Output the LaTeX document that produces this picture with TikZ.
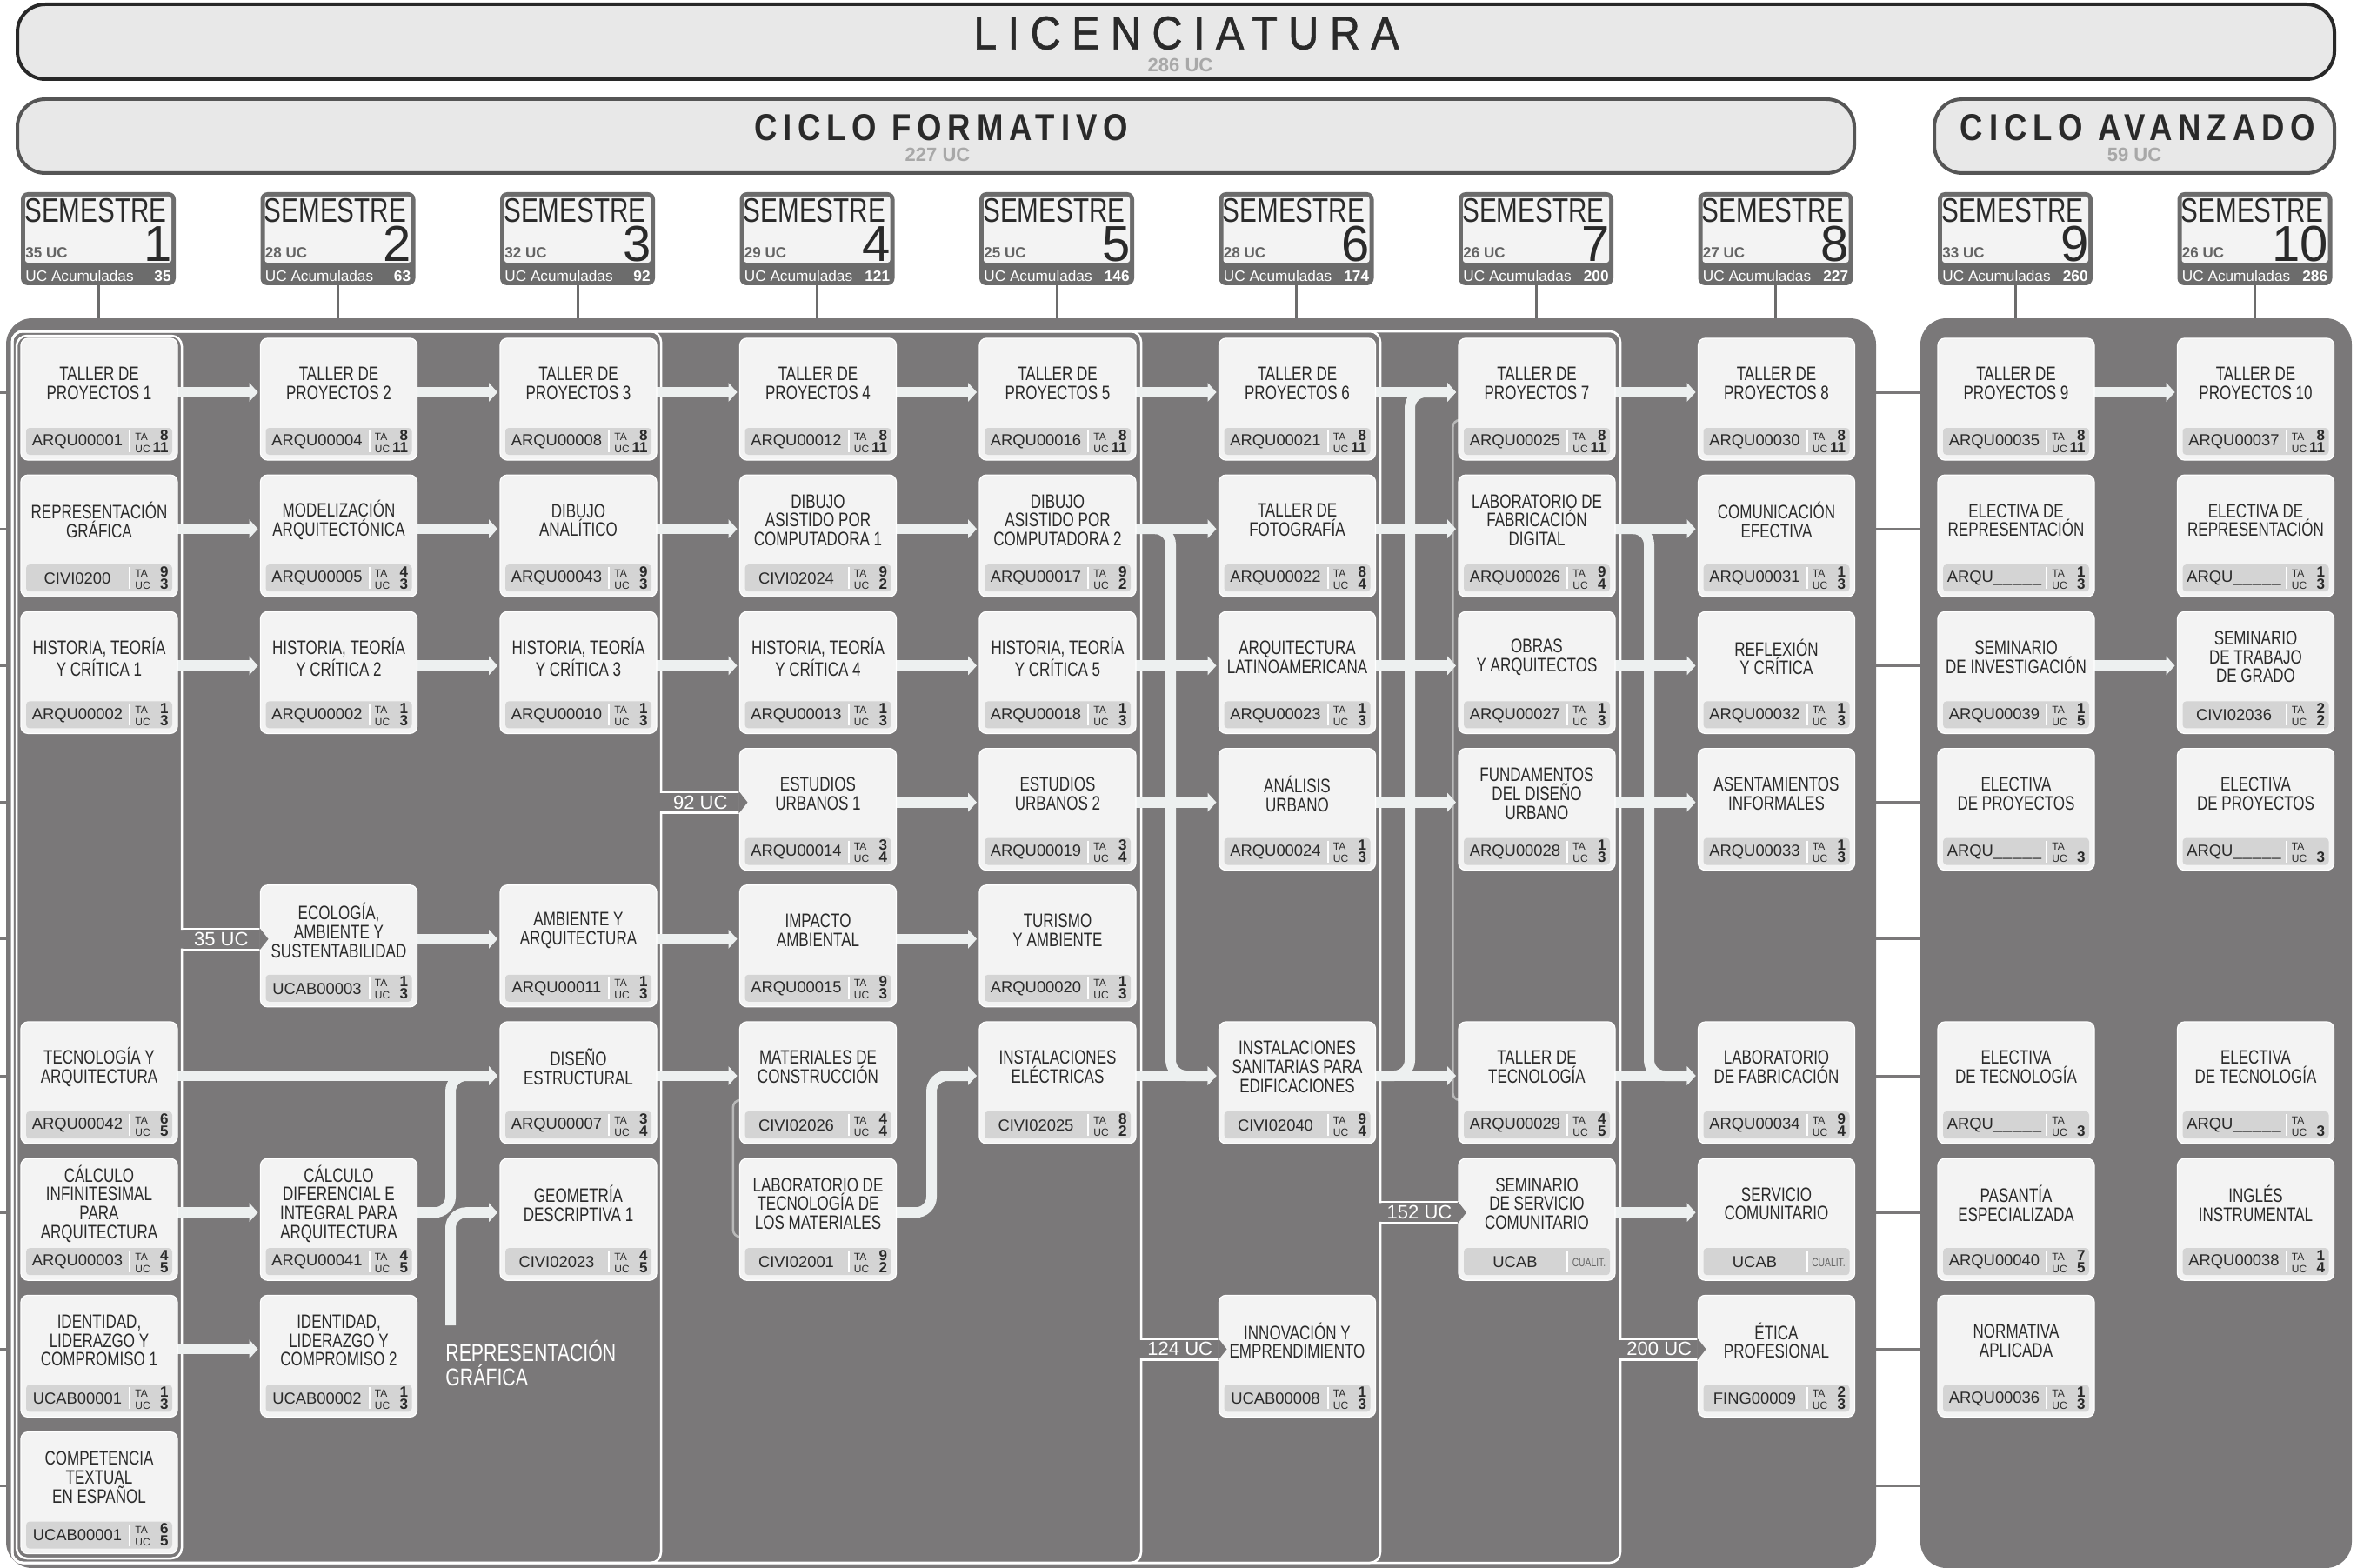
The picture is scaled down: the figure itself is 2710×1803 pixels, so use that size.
\documentclass[tikz,border=0pt]{standalone}
\usepackage{fontspec}
\setmainfont{Liberation Sans}
\newfontfamily\condfont{Liberation Sans}[FakeStretch=0.76]
\newfontfamily\licfont{Liberation Sans}[FakeStretch=0.9,LetterSpace=23,FakeBold=1]
\newfontfamily\ciclofont{Liberation Sans}[FakeStretch=0.85,LetterSpace=16]
\usetikzlibrary{arrows.meta,calc}

\pgfdeclarelayer{back}
\pgfdeclarelayer{mid}
\pgfsetlayers{back,mid,main}

\definecolor{panelgray}{RGB}{122,120,121}
\definecolor{boxfill}{RGB}{243,243,243}
\definecolor{stripfill}{RGB}{212,212,212}
\definecolor{flowfill}{RGB}{237,240,240}
\definecolor{headfill}{RGB}{232,232,232}
\definecolor{semgray}{RGB}{108,108,108}
\definecolor{inktext}{RGB}{42,42,42}
\definecolor{coreqgray}{RGB}{185,185,185}
\definecolor{subgray}{RGB}{168,168,168}
\definecolor{licline}{RGB}{40,40,40}
\definecolor{cicloline}{RGB}{85,85,85}
\definecolor{uctext}{RGB}{100,100,100}

\tikzset{
  headbox/.style={fill=headfill, line width=2pt, rounded corners=16pt, inner sep=0pt},
  lictext/.style={text=inktext, font=\licfont\fontsize{27}{27}\selectfont, inner sep=0pt},
  ciclotext/.style={text=inktext, font=\ciclofont\bfseries\fontsize{21.5}{22}\selectfont, inner sep=0pt},
  subuc/.style={text=subgray, font=\bfseries\fontsize{11}{11}\selectfont, inner sep=0pt},
  sembox/.style={fill=semgray, rounded corners=4pt, minimum width=89pt, minimum height=53.5pt, inner sep=0pt},
  seminner/.style={fill=boxfill, rounded corners=1.5pt, minimum width=84pt, minimum height=38pt, inner sep=0pt},
  semword/.style={text=inktext, font=\condfont\fontsize{19.5}{20}\selectfont, inner sep=0pt},
  semnum/.style={text=inktext, font=\fontsize{29}{29}\selectfont, inner sep=0pt},
  semuc/.style={text=uctext, font=\bfseries\fontsize{8.5}{9}\selectfont, inner sep=0pt},
  semacc/.style={text=white, font=\fontsize{8.6}{9}\selectfont, inner sep=0pt},
  semaccnum/.style={text=white, font=\bfseries\fontsize{8.6}{9}\selectfont, inner sep=0pt},
  semline/.style={draw=semgray, line width=1.5pt},
  panel/.style={fill=panelgray, rounded corners=15pt, inner sep=0pt},
  rowtick/.style={draw=panelgray, line width=1.5pt},
  coursebox/.style={draw=white, line width=0.6pt, fill=boxfill, rounded corners=4pt, minimum width=90pt, minimum height=70pt, inner sep=0pt},
  codestrip/.style={fill=stripfill, rounded corners=2pt, minimum width=84pt, minimum height=15.5pt, inner sep=0pt},
  coursetitle/.style={align=center, text=inktext, font=\condfont\fontsize{11.2}{10.9}\selectfont, inner sep=0pt},
  coursecode/.style={text=inktext, font=\fontsize{9.2}{10}\selectfont, inner sep=0pt},
  taucword/.style={text=inktext, font=\fontsize{6}{6}\selectfont, inner sep=0pt},
  taucnum/.style={text=inktext, font=\bfseries\fontsize{8.5}{8}\selectfont, inner sep=0pt},
  cualitword/.style={text=uctext, font=\condfont\fontsize{6.8}{7}\selectfont, inner sep=0pt},
  flow/.style={draw=flowfill, line width=6pt, rounded corners=9pt, -{Triangle[length=5pt,width=11pt,line width=0pt]}},
  ucline/.style={draw=white, line width=1.25pt, line cap=rect},
  uctag/.style={text=white, font=\fontsize{11}{12}\selectfont, inner sep=0pt},
  coreq/.style={draw=coreqgray, line width=1.25pt, rounded corners=4pt},
  replabel/.style={text=white, align=left, font=\condfont\fontsize{14}{14}\selectfont, inner sep=0pt},
}

\newcommand{\blankcode}{ARQU\_\kern0.5pt\_\kern0.5pt\_\kern0.5pt\_\kern0.5pt\_}

% semester header: name, number, UC, accumulated UC
\newcommand{\semester}[4]{%
  \pgfmathsetmacro\semx{113+275.5*(#2-1)}%
  \node[sembox] (#1) at (\semx,274.5) {};
  \node[seminner] at (\semx,264) {};
  \node[semword, anchor=base west] at (\semx-85,256) {SEMESTRE};
  \node[semnum, anchor=base east] at (\semx+85,300) {#2};
  \node[semuc, anchor=base west] at (\semx-84,297) {#3 UC};
  \node[semacc, anchor=base west] at (\semx-84,323) {UC Acumuladas};
  \node[semaccnum, anchor=base east] at (\semx+84,323) {#4};
}

% course box: name, column, row, title, code
\newcommand{\coursebase}[5]{%
  \pgfmathsetmacro\colx{24+275.5*(#2-1)}%
  \pgfmathsetmacro\rowy{389+157.2*(#3-1)}%
  \node[coursebox] (#1) at (\colx+90,\rowy+70) {};
  \node[codestrip] (#1-strip) at (\colx+90,\rowy+118.5) {};
  \draw[white, line width=1pt] (\colx+125,\rowy+106) -- (\colx+125,\rowy+131);
  \node[coursetitle] (#1-title) at (\colx+90,\rowy+52) {#4};
  \node[coursecode] (#1-code) at (\colx+65,\rowy+119) {#5};
  \coordinate (#1-w) at (\colx,\rowy+62);
  \coordinate (#1-in) at (\colx-3,\rowy+62);
  \coordinate (#1-out) at (\colx+180,\rowy+62);
  \coordinate (#1-tt) at (\colx,\rowy+50);
  \coordinate (#1-tb) at (\colx,\rowy+74);
}
\newcommand{\course}[7]{%
  \coursebase{#1}{#2}{#3}{#4}{#5}%
  \node[taucword, anchor=base west] at (\colx+131,\rowy+117) {TA};
  \node[taucword, anchor=base west] at (\colx+131,\rowy+131) {UC};
  \node[taucnum, anchor=base east] at (\colx+170,\rowy+117) {#6};
  \node[taucnum, anchor=base east] at (\colx+170,\rowy+131) {#7};
}
\newcommand{\cualit}[4]{%
  \coursebase{#1}{#2}{#3}{#4}{UCAB}%
  \node[cualitword] at (\colx+150,\rowy+120) {CUALIT.};
}

\begin{document}
\begin{tikzpicture}[x=0.5pt,y=-0.5pt]
  \useasboundingbox (0,0) rectangle (2710,1803);

  % headers
  \node[headbox, draw=licline, minimum width=1332pt, minimum height=43pt] (lic) at (1352,48) {};
  \node[lictext] (lictitle) at (1364,38) {LICENCIATURA};
  \node[subuc] (licuc) at (1357,75) {286 UC};
  \node[headbox, draw=cicloline, minimum width=1056pt, minimum height=42.5pt] (cform) at (1076,156.5) {};
  \node[ciclotext] (cformtitle) at (1082,147) {CICLO FORMATIVO};
  \node[subuc] (cformuc) at (1078,178) {227 UC};
  \node[headbox, draw=cicloline, minimum width=230pt, minimum height=42.5pt] (cavan) at (2454,156.5) {};
  \node[ciclotext] (cavantitle) at (2458,147) {CICLO AVANZADO};
  \node[subuc] (cavanuc) at (2454,178) {59 UC};

  % semesters
  \semester{s1}{1}{35}{35}
  \semester{s2}{2}{28}{63}
  \semester{s3}{3}{32}{92}
  \semester{s4}{4}{29}{121}
  \semester{s5}{5}{25}{146}
  \semester{s6}{6}{28}{174}
  \semester{s7}{7}{26}{200}
  \semester{s8}{8}{27}{227}
  \semester{s9}{9}{33}{260}
  \semester{s10}{10}{26}{286}

  % panels
  \begin{pgfonlayer}{back}
    \node[panel, minimum width=1075pt, minimum height=718.5pt] (formpanel) at (1082,1084.5) {};
    \node[panel, minimum width=248pt, minimum height=718.5pt] (advpanel) at (2456,1084.5) {};
    \foreach \s in {1,...,8} \draw[semline] (s\s.south) -- (s\s.south |- formpanel.north);
    \foreach \s in {9,10} \draw[semline] (s\s.south) -- (s\s.south |- advpanel.north);
    \foreach \r in {1,...,9} {
      \pgfmathsetmacro\ry{451+157.2*(\r-1)}
      \draw[rowtick] (0,\ry) -- (8,\ry);
      \draw[rowtick] (2150,\ry) -- (2215,\ry);
    }
  \end{pgfonlayer}

  % column 1
  \course{tp1}{1}{1}{TALLER DE\\PROYECTOS 1}{ARQU00001}{8}{11}
  \course{rg}{1}{2}{REPRESENTACIÓN\\GRÁFICA}{CIVI0200}{9}{3}
  \course{htc1}{1}{3}{HISTORIA, TEORÍA\\Y CRÍTICA 1}{ARQU00002}{1}{3}
  \course{tya}{1}{6}{TECNOLOGÍA Y\\ARQUITECTURA}{ARQU00042}{6}{5}
  \course{cinf}{1}{7}{CÁLCULO\\INFINITESIMAL\\PARA\\ARQUITECTURA}{ARQU00003}{4}{5}
  \course{ilc1}{1}{8}{IDENTIDAD,\\LIDERAZGO Y\\COMPROMISO 1}{UCAB00001}{1}{3}
  \course{cte}{1}{9}{COMPETENCIA\\TEXTUAL\\EN ESPAÑOL}{UCAB00001}{6}{5}
  % column 2
  \course{tp2}{2}{1}{TALLER DE\\PROYECTOS 2}{ARQU00004}{8}{11}
  \course{modarq}{2}{2}{MODELIZACIÓN\\ARQUITECTÓNICA}{ARQU00005}{4}{3}
  \course{htc2}{2}{3}{HISTORIA, TEORÍA\\Y CRÍTICA 2}{ARQU00002}{1}{3}
  \course{ecol}{2}{5}{ECOLOGÍA,\\AMBIENTE Y\\SUSTENTABILIDAD}{UCAB00003}{1}{3}
  \course{cdif}{2}{7}{CÁLCULO\\DIFERENCIAL E\\INTEGRAL PARA\\ARQUITECTURA}{ARQU00041}{4}{5}
  \course{ilc2}{2}{8}{IDENTIDAD,\\LIDERAZGO Y\\COMPROMISO 2}{UCAB00002}{1}{3}
  % column 3
  \course{tp3}{3}{1}{TALLER DE\\PROYECTOS 3}{ARQU00008}{8}{11}
  \course{danal}{3}{2}{DIBUJO\\ANALÍTICO}{ARQU00043}{9}{3}
  \course{htc3}{3}{3}{HISTORIA, TEORÍA\\Y CRÍTICA 3}{ARQU00010}{1}{3}
  \course{amarq}{3}{5}{AMBIENTE Y\\ARQUITECTURA}{ARQU00011}{1}{3}
  \course{dest}{3}{6}{DISEÑO\\ESTRUCTURAL}{ARQU00007}{3}{4}
  \course{gd1}{3}{7}{GEOMETRÍA\\DESCRIPTIVA 1}{CIVI02023}{4}{5}
  % column 4
  \course{tp4}{4}{1}{TALLER DE\\PROYECTOS 4}{ARQU00012}{8}{11}
  \course{dac1}{4}{2}{DIBUJO\\ASISTIDO POR\\COMPUTADORA 1}{CIVI02024}{9}{2}
  \course{htc4}{4}{3}{HISTORIA, TEORÍA\\Y CRÍTICA 4}{ARQU00013}{1}{3}
  \course{eu1}{4}{4}{ESTUDIOS\\URBANOS 1}{ARQU00014}{3}{4}
  \course{impam}{4}{5}{IMPACTO\\AMBIENTAL}{ARQU00015}{9}{3}
  \course{mat}{4}{6}{MATERIALES DE\\CONSTRUCCIÓN}{CIVI02026}{4}{4}
  \course{ltm}{4}{7}{LABORATORIO DE\\TECNOLOGÍA DE\\LOS MATERIALES}{CIVI02001}{9}{2}
  % column 5
  \course{tp5}{5}{1}{TALLER DE\\PROYECTOS 5}{ARQU00016}{8}{11}
  \course{dac2}{5}{2}{DIBUJO\\ASISTIDO POR\\COMPUTADORA 2}{ARQU00017}{9}{2}
  \course{htc5}{5}{3}{HISTORIA, TEORÍA\\Y CRÍTICA 5}{ARQU00018}{1}{3}
  \course{eu2}{5}{4}{ESTUDIOS\\URBANOS 2}{ARQU00019}{3}{4}
  \course{turam}{5}{5}{TURISMO\\Y AMBIENTE}{ARQU00020}{1}{3}
  \course{iel}{5}{6}{INSTALACIONES\\ELÉCTRICAS}{CIVI02025}{8}{2}
  % column 6
  \course{tp6}{6}{1}{TALLER DE\\PROYECTOS 6}{ARQU00021}{8}{11}
  \course{tfoto}{6}{2}{TALLER DE\\FOTOGRAFÍA}{ARQU00022}{8}{4}
  \course{arqlat}{6}{3}{ARQUITECTURA\\LATINOAMERICANA}{ARQU00023}{1}{3}
  \course{anurb}{6}{4}{ANÁLISIS\\URBANO}{ARQU00024}{1}{3}
  \course{isan}{6}{6}{INSTALACIONES\\SANITARIAS PARA\\EDIFICACIONES}{CIVI02040}{9}{4}
  \course{innov}{6}{8}{INNOVACIÓN Y\\EMPRENDIMIENTO}{UCAB00008}{1}{3}
  % column 7
  \course{tp7}{7}{1}{TALLER DE\\PROYECTOS 7}{ARQU00025}{8}{11}
  \course{lfd}{7}{2}{LABORATORIO DE\\FABRICACIÓN\\DIGITAL}{ARQU00026}{9}{4}
  \course{obras}{7}{3}{OBRAS\\Y ARQUITECTOS}{ARQU00027}{1}{3}
  \course{fdu}{7}{4}{FUNDAMENTOS\\DEL DISEÑO\\URBANO}{ARQU00028}{1}{3}
  \course{ttec}{7}{6}{TALLER DE\\TECNOLOGÍA}{ARQU00029}{4}{5}
  \cualit{ssc}{7}{7}{SEMINARIO\\DE SERVICIO\\COMUNITARIO}
  % column 8
  \course{tp8}{8}{1}{TALLER DE\\PROYECTOS 8}{ARQU00030}{8}{11}
  \course{comef}{8}{2}{COMUNICACIÓN\\EFECTIVA}{ARQU00031}{1}{3}
  \course{refl}{8}{3}{REFLEXIÓN\\Y CRÍTICA}{ARQU00032}{1}{3}
  \course{asinf}{8}{4}{ASENTAMIENTOS\\INFORMALES}{ARQU00033}{1}{3}
  \course{lfab}{8}{6}{LABORATORIO\\DE FABRICACIÓN}{ARQU00034}{9}{4}
  \cualit{scom}{8}{7}{SERVICIO\\COMUNITARIO}
  \course{etica}{8}{8}{ÉTICA\\PROFESIONAL}{FING00009}{2}{3}
  % column 9
  \course{tp9}{9}{1}{TALLER DE\\PROYECTOS 9}{ARQU00035}{8}{11}
  \course{erep9}{9}{2}{ELECTIVA DE\\REPRESENTACIÓN}{\blankcode}{1}{3}
  \course{seminv}{9}{3}{SEMINARIO\\DE INVESTIGACIÓN}{ARQU00039}{1}{5}
  \course{eproy9}{9}{4}{ELECTIVA\\DE PROYECTOS}{\blankcode}{}{3}
  \course{etec9}{9}{6}{ELECTIVA\\DE TECNOLOGÍA}{\blankcode}{}{3}
  \course{pasesp}{9}{7}{PASANTÍA\\ESPECIALIZADA}{ARQU00040}{7}{5}
  \course{norm}{9}{8}{NORMATIVA\\APLICADA}{ARQU00036}{1}{3}
  % column 10
  \course{tp10}{10}{1}{TALLER DE\\PROYECTOS 10}{ARQU00037}{8}{11}
  \course{erep10}{10}{2}{ELECTIVA DE\\REPRESENTACIÓN}{\blankcode}{1}{3}
  \course{stg}{10}{3}{SEMINARIO\\DE TRABAJO\\DE GRADO}{CIVI02036}{2}{2}
  \course{eproy10}{10}{4}{ELECTIVA\\DE PROYECTOS}{\blankcode}{}{3}
  \course{etec10}{10}{6}{ELECTIVA\\DE TECNOLOGÍA}{\blankcode}{}{3}
  \course{ingles}{10}{7}{INGLÉS\\INSTRUMENTAL}{ARQU00038}{1}{4}

  \begin{pgfonlayer}{mid}
    % credit brackets
    \foreach \bx/\off/\target in {1863/0/etica,1587/0/ssc,1312/0/innov,760/0/eu1,209/5/ecol} {
      \coordinate (bk) at (\bx,0);
      \draw[ucline, rounded corners=6pt] (bk |- \target-tt) -- (\bx,381+\off) -- (14+\off,381+\off)
        -- (14+\off,1797-\off) -- (\bx,1797-\off) -- (bk |- \target-tb);
      \draw[ucline] (bk |- \target-tt) -- (\target-tt) (bk |- \target-tb) -- (\target-tb);
    }
    % corequisites
    \draw[coreq] ([yshift=-10pt]mat.west) -- ++(-7,0) |- ([yshift=-10pt]ltm.west);
    \draw[coreq] ([yshift=-12pt]tp7.west) -- ++(-6,0) |- ([yshift=-10pt]ttec.west);
    % straight flows
    \foreach \a/\b in {tp1/tp2,tp2/tp3,tp3/tp4,tp4/tp5,tp5/tp6,tp6/tp7,tp7/tp8,tp9/tp10,
        rg/modarq,modarq/danal,danal/dac1,dac1/dac2,dac2/tfoto,tfoto/lfd,lfd/comef,
        htc1/htc2,htc2/htc3,htc3/htc4,htc4/htc5,htc5/arqlat,arqlat/obras,obras/refl,seminv/stg,
        eu1/eu2,eu2/anurb,anurb/fdu,fdu/asinf,
        ecol/amarq,amarq/impam,impam/turam,
        tya/dest,dest/mat,iel/isan,isan/ttec,ttec/lfab,
        cinf/cdif,ssc/scom,ilc1/ilc2}
      \draw[flow] (\a-out) -- (\b-in);
    % bent flows
    \coordinate (kcdif) at (518,0);
    \draw[flow] (cdif-out) -- (kcdif |- cdif-out) -- (kcdif |- dest-in) -- (dest-in);
    \coordinate (rgfoot) at (518,1524);
    \draw[flow] (rgfoot) |- (gd1-in);
    \coordinate (kltm) at (1071,0);
    \draw[flow] (ltm-out) -- (kltm |- ltm-out) -- (kltm |- iel-in) -- (iel-in);
    \coordinate (kdac) at (1346,0);
    \draw[flow] (dac2-out) -- (kdac |- dac2-out) -- (kdac |- isan-in) -- (isan-in);
    \coordinate (kisan) at (1621,0);
    \draw[flow] (isan-out) -- (kisan |- isan-out) -- (kisan |- tp7-in) -- (tp7-in);
    \coordinate (klfd) at (1896,0);
    \draw[flow] (lfd-out) -- (klfd |- lfd-out) -- (klfd |- lfab-in) -- (lfab-in);
  \end{pgfonlayer}

  % credit tags
  \foreach \bx/\target/\lab in {1863/etica/200 UC,1587/ssc/152 UC,1312/innov/124 UC,760/eu1/92 UC,209/ecol/35 UC} {
    \coordinate (bk) at (\bx,0);
    \fill[panelgray] ([shift={(-0.6pt,6.5pt)}]\target-w) -- ([xshift=4.5pt]\target-w)
      -- ([shift={(-0.6pt,-6.5pt)}]\target-w) -- cycle;
    \node[uctag] at ($(bk |- \target-w)!0.5!(\target-w)$) {\lab};
  }
  \node[replabel, anchor=north west] (rglabel) at (512,1541) {REPRESENTACIÓN\\GRÁFICA};
\end{tikzpicture}
\end{document}
